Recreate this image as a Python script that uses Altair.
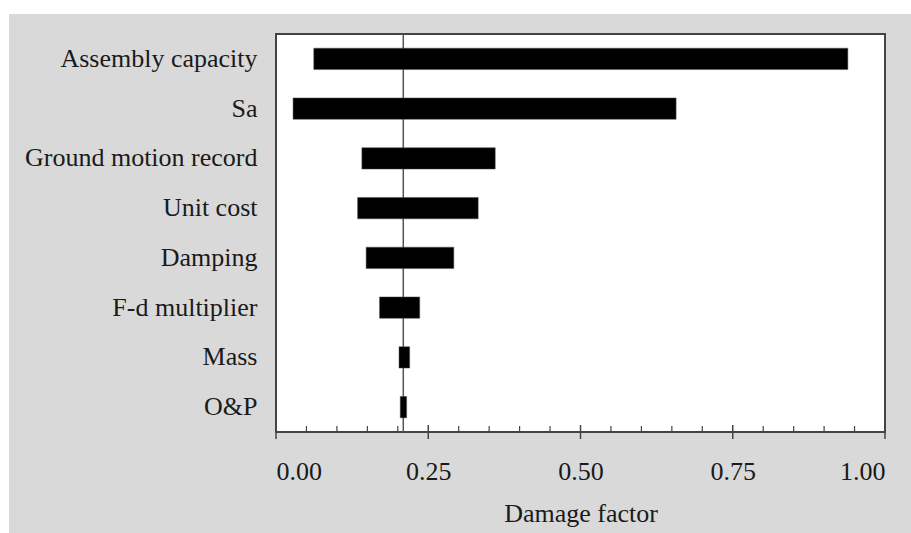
import altair as alt
import pandas as pd

factors = ["Assembly capacity", "Sa", "Ground motion record", "Unit cost",
           "Damping", "F-d multiplier", "Mass", "O&P"]
low = [0.062, 0.028, 0.141, 0.134, 0.148, 0.170, 0.202, 0.204]
high = [0.939, 0.657, 0.360, 0.332, 0.292, 0.236, 0.2195, 0.2145]
base_value = [0.209]
major_ticks = [0.0, 0.25, 0.5, 0.75, 1.0]
minor_ticks = [0.05, 0.10, 0.15, 0.20, 0.30, 0.35, 0.40, 0.45, 0.55, 0.60,
               0.65, 0.70, 0.80, 0.85, 0.90, 0.95]

W, H = 609, 398
FONT = "Liberation Serif"
FS = 26
GRAY = "#d9d9d9"
FRAME = "#444444"
TXT = "#1a1a1a"

bars_df = pd.DataFrame({"factor": factors, "low": low, "high": high})
base_df = pd.DataFrame({"v": base_value})
major_df = pd.DataFrame({"t": major_ticks})
minor_df = pd.DataFrame({"t": minor_ticks})

xscale = alt.Scale(domain=[0, 1], nice=False, zero=False)

# white strips outside the gray panel (top and left margins)
strip_top = alt.Chart(base_df).mark_rect(color="white", clip=False).encode(
    x=alt.value(-280), x2=alt.value(W + 30), y=alt.value(-40), y2=alt.value(-20)
)
strip_left = alt.Chart(base_df).mark_rect(color="white", clip=False).encode(
    x=alt.value(-280), x2=alt.value(-267), y=alt.value(-40), y2=alt.value(H + 110)
)

bars = alt.Chart(bars_df).mark_bar(color="black", stroke="#555555", strokeWidth=0.5).encode(
    y=alt.Y("factor:N", sort=factors,
            scale=alt.Scale(paddingInner=0.57, paddingOuter=0.285),
            axis=alt.Axis(title=None, ticks=False, domain=False, labelFont=FONT,
                          labelFontSize=FS, labelColor=TXT, labelPadding=19,
                          labelLimit=400)),
    x=alt.X("low:Q", scale=xscale,
            axis=alt.Axis(title="Damage factor", values=major_ticks, format=".2f",
                          ticks=False, domain=False, grid=False, labelFont=FONT,
                          labelFontSize=FS, labelColor=TXT, labelPadding=26,
                          titleFont=FONT, titleFontSize=FS, titleFontWeight="normal",
                          titleColor=TXT, titlePadding=16)),
    x2="high:Q",
)

base_line = alt.Chart(base_df).mark_rule(color="#555555", strokeWidth=1.5).encode(
    x=alt.X("v:Q", scale=xscale), y=alt.value(0), y2=alt.value(H)
)

major = alt.Chart(major_df).mark_rule(color=FRAME, strokeWidth=1.5, clip=False).encode(
    x=alt.X("t:Q", scale=xscale), y=alt.value(H - 7), y2=alt.value(H + 7)
)
minor = alt.Chart(minor_df).mark_rule(color=FRAME, strokeWidth=1.2, clip=False).encode(
    x=alt.X("t:Q", scale=xscale), y=alt.value(H - 6), y2=alt.value(H)
)

chart = alt.layer(strip_top, strip_left, base_line, bars, major, minor).properties(
    width=W, height=H,
    background=GRAY,
    padding={"left": 276, "top": 34, "right": 26, "bottom": 101},
    autosize=alt.AutoSizeParams(type="none"),
).configure_view(
    fill="white", stroke=FRAME, strokeWidth=2
)

chart.save("out.html", embed_options={"renderer": "svg", "actions": False})
